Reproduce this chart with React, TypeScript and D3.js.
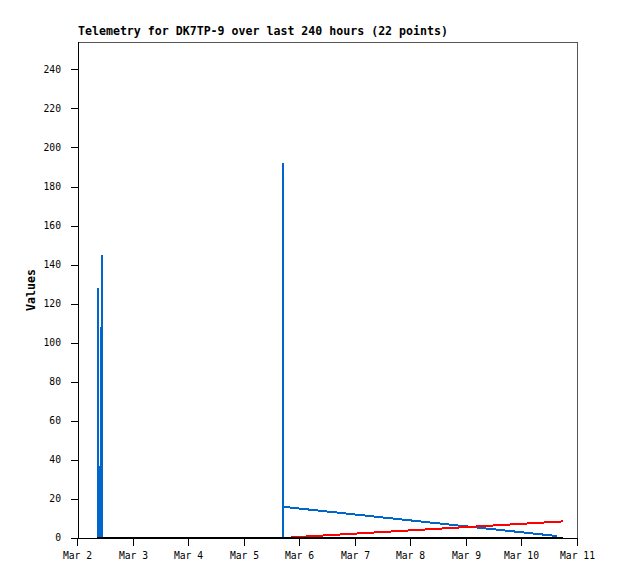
import React from 'react';
import * as d3 from 'd3';

const titleText = 'Telemetry for DK7TP-9 over last 240 hours (22 points)';
const yAxisTitle = 'Values';

const xTickDates = ['2024-03-02', '2024-03-03', '2024-03-04', '2024-03-05', '2024-03-06', '2024-03-07', '2024-03-08', '2024-03-09', '2024-03-10', '2024-03-11'];
const xTickLabels = ['Mar 2', 'Mar 3', 'Mar 4', 'Mar 5', 'Mar 6', 'Mar 7', 'Mar 8', 'Mar 9', 'Mar 10', 'Mar 11'];
const yTicks = [0, 20, 40, 60, 80, 100, 120, 140, 160, 180, 200, 220, 240];

const blueTimes = [
  '2024-03-02T08:39', '2024-03-02T08:39', '2024-03-02T08:39',
  '2024-03-02T09:31', '2024-03-02T09:31', '2024-03-02T09:31',
  '2024-03-02T09:57', '2024-03-02T09:57', '2024-03-02T09:57',
  '2024-03-02T10:23', '2024-03-02T10:23', '2024-03-02T10:23',
  '2024-03-05T16:36', '2024-03-05T16:36', '2024-03-05T16:36',
  '2024-03-10T15:07',
];
const blueValues = [0, 128, 0, 0, 37, 0, 0, 108, 0, 0, 145, 0, 0, 192, 16, 1];

const redTimes = ['2024-03-05T20:07', '2024-03-10T17:36'];
const redValues = [0.3, 8.5];

const blackTimes = ['2024-03-02T08:13', '2024-03-10T17:36'];
const blackValues = [0, 0];

const W = 618;
const H = 579;
const left = 78;
const right = 577.5;
const top = 42;
const bottom = 538;

export default function App() {
  const x = d3.scaleTime()
    .domain([new Date('2024-03-02T00:00'), new Date('2024-03-11T00:00')])
    .range([left, right]);
  const y = d3.scaleLinear().domain([0, 254]).range([bottom, top]);

  const mk = (times: string[], vals: number[]) =>
    d3.line<[Date, number]>()
      .x((d) => x(d[0]))
      .y((d) => y(d[1]))(times.map((t, i) => [new Date(t), vals[i]] as [Date, number])) || '';

  const mono = '"DejaVu Sans Mono", monospace';

  return (
    <svg width={W} height={H} style={{ position: 'absolute', left: 0, top: 0, background: '#fff' }}>
      <rect x={0} y={0} width={W} height={H} fill="#fff" />
      <text x={left} y={35} fontFamily={mono} fontWeight="bold" fontSize={11.6} fill="#000">{titleText}</text>
      {/* frame */}
      <line x1={left} x2={right} y1={top + 0.5} y2={top + 0.5} stroke="#555" strokeWidth={1} shapeRendering="crispEdges" />
      <line x1={right} x2={right} y1={top} y2={bottom + 1} stroke="#555" strokeWidth={1} shapeRendering="crispEdges" />
      <line x1={left + 0.5} x2={left + 0.5} y1={top} y2={bottom + 1} stroke="#000" strokeWidth={1} shapeRendering="crispEdges" />
      <line x1={left} x2={right} y1={bottom + 0.5} y2={bottom + 0.5} stroke="#000" strokeWidth={1} shapeRendering="crispEdges" />
      {/* y ticks */}
      {yTicks.map((v) => (
        <g key={'y' + v}>
          <line x1={left - 7} x2={left} y1={Math.round(y(v)) + 0.5} y2={Math.round(y(v)) + 0.5} stroke="#000" shapeRendering="crispEdges" />
          <text x={61} y={y(v)} dy="0.35em" textAnchor="end" fontFamily={mono} fontSize={9.7} fill="#000">{v}</text>
        </g>
      ))}
      {/* x ticks */}
      {xTickDates.map((d, i) => {
        const px = Math.round(x(new Date(d + 'T00:00'))) - 0.5;
        return (
          <g key={'x' + d}>
            <line x1={px} x2={px} y1={bottom} y2={bottom + 8} stroke="#000" shapeRendering="crispEdges" />
            <text x={px} y={559} textAnchor="middle" fontFamily={mono} fontSize={9.7} fill="#000">{xTickLabels[i]}</text>
          </g>
        );
      })}
      <text transform={`translate(35,${(top + bottom) / 2}) rotate(-90)`} textAnchor="middle" fontFamily={mono} fontWeight="bold" fontSize={11.6} fill="#000">{yAxisTitle}</text>
      {/* series */}
      <path d={mk(blueTimes, blueValues)} fill="none" stroke="#0066cc" strokeWidth={2} shapeRendering="crispEdges" />
      <path d={mk(redTimes, redValues)} fill="none" stroke="#ff0000" strokeWidth={2} shapeRendering="crispEdges" />
      <path d={mk(blackTimes, blackValues)} fill="none" stroke="#000" strokeWidth={2} shapeRendering="crispEdges" />
    </svg>
  );
}
